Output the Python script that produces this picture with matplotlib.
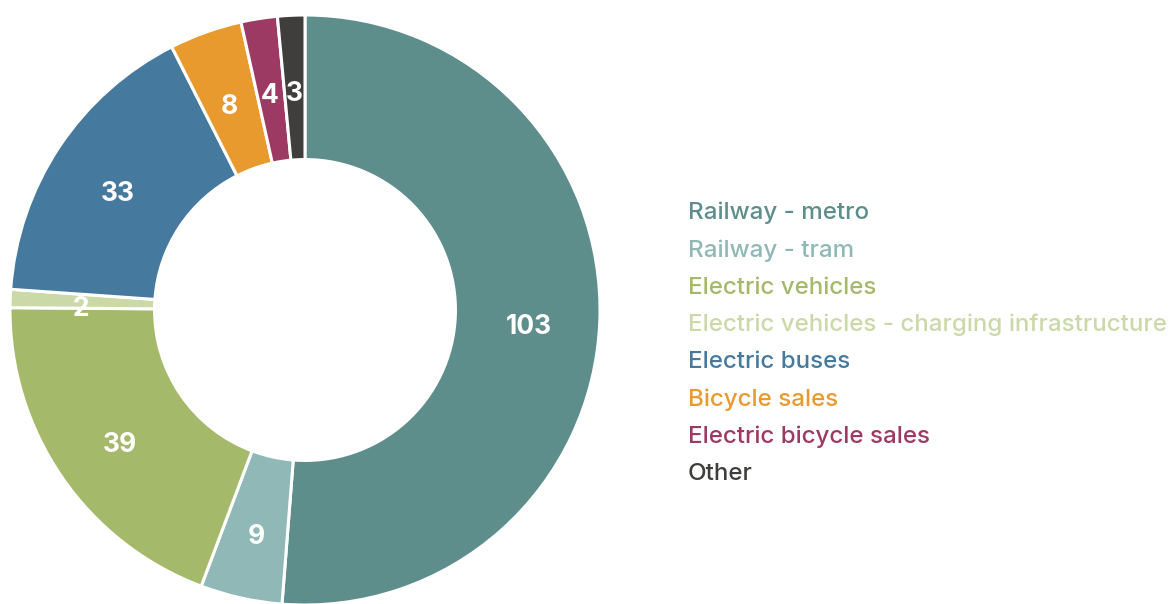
import matplotlib.pyplot as plt

plt.rcParams['font.family'] = ['Inter', 'DejaVu Sans']

categories = ['Railway - metro', 'Railway - tram', 'Electric vehicles',
              'Electric vehicles - charging infrastructure', 'Electric buses',
              'Bicycle sales', 'Electric bicycle sales', 'Other']
values = [103, 9, 39, 2, 33, 8, 4, 3]
colors = ['#5e8e8c', '#8fb8b6', '#a5b96a', '#cbd9a9',
          '#457a9e', '#e99a2f', '#9d3a63', '#3f3e3c']

fig = plt.figure(figsize=(11.71, 6.04), dpi=100)
# donut: centre ~ (305, 310) px, outer radius ~295 px
ax = fig.add_axes([10 / 1171, (604 - 605) / 604, 590 / 1171, 590 / 604])

wedges, texts = ax.pie(values, colors=colors, startangle=90, counterclock=False,
                       labels=[str(v) for v in values], labeldistance=0.76,
                       wedgeprops=dict(width=0.49, edgecolor='white', linewidth=2.2),
                       textprops=dict(color='white', fontsize=19, fontweight='bold'))
for t in texts:
    x, y = t.get_position()
    t.set_position((x, y - 0.027))
    t.set_ha('center')
    t.set_va('center')
ax.set_xlim(-1, 1)
ax.set_ylim(-1, 1)
ax.set_aspect('equal')

# legend as coloured text
for i, (name, c) in enumerate(zip(categories, colors)):
    y = 213 + i * 37.3
    fig.text(688 / 1171, 1 - y / 604, name, color=c, fontsize=17.4,
             ha='left', va='center', fontweight='medium')

fig.savefig('out.png', dpi=100)
